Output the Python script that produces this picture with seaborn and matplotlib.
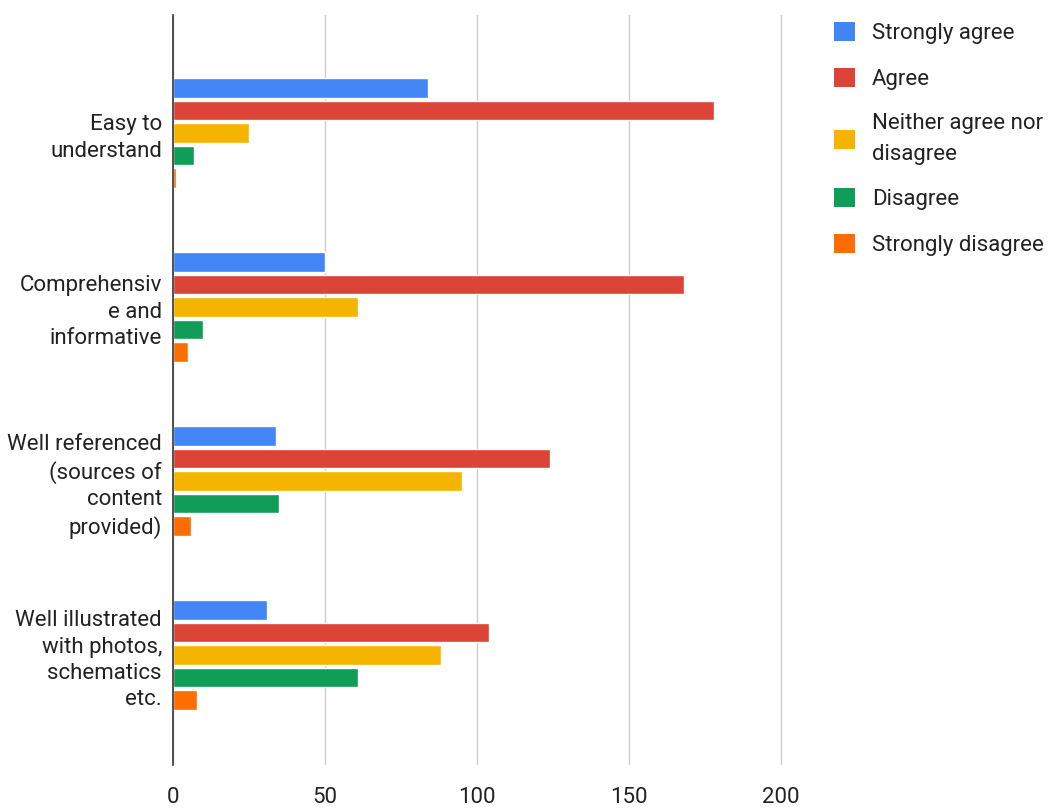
import matplotlib
matplotlib.use("Agg")
import matplotlib.pyplot as plt
from matplotlib.patches import Patch
import seaborn as sns
import pandas as pd

categories = ["Easy to\nunderstand", "Comprehensiv\ne and\ninformative",
              "Well referenced\n(sources of\ncontent\nprovided)",
              "Well illustrated\nwith photos,\nschematics\netc."]
series_names = ["Strongly agree", "Agree", "Neither agree nor disagree",
                "Disagree", "Strongly disagree"]
legend_labels = ["Strongly agree", "Agree", "Neither agree nor\ndisagree",
                 "Disagree", "Strongly disagree"]
strongly_agree = [84, 50, 34, 31]
agree = [178, 168, 124, 104]
neither = [25, 61, 95, 88]
disagree = [7, 10, 35, 61]
strongly_disagree = [1, 5, 6, 8]
x_ticks = [0, 50, 100, 150, 200]
colors = ["#4285F4", "#DB4437", "#F4B400", "#0F9D58", "#FF6D00"]

values = [strongly_agree, agree, neither, disagree, strongly_disagree]
rows = []
for name, vals in zip(series_names, values):
    for cat, v in zip(categories, vals):
        rows.append({"category": cat, "series": name, "value": v})
df = pd.DataFrame(rows)

sns.set_style("white")
plt.rcParams["font.family"] = ["Roboto", "DejaVu Sans"]
text_color = "#222222"

fig = plt.figure(figsize=(10.49, 8.08), dpi=100)
ax = fig.add_axes([173 / 1049, 1 - 765 / 808, (800 - 173) / 1049, (765 - 15) / 808])

sns.barplot(data=df, y="category", x="value", hue="series", order=categories,
            hue_order=series_names, palette=colors, orient="h", width=0.647,
            gap=0.12, ax=ax, legend=False, saturation=1)

ax.set_xlim(0, 206.2)
ax.set_ylim(3.632, -0.678)
ax.set_xticks(x_ticks)
ax.set_xticklabels([str(t) for t in x_ticks], fontsize=16, color=text_color)
ax.tick_params(axis="x", length=0, pad=16)
ax.tick_params(axis="y", length=0, pad=8, labelsize=16, labelcolor=text_color)
for lbl in ax.get_yticklabels():
    lbl.set_horizontalalignment("right")
    lbl.set_multialignment("right")
    lbl.set_linespacing(1.32)
ax.set_xlabel("")
ax.set_ylabel("")
ax.grid(axis="x", color="#cccccc", linewidth=1)
ax.grid(axis="y", visible=False)
ax.set_axisbelow(True)
for side in ["top", "right", "bottom"]:
    ax.spines[side].set_visible(False)
ax.spines["left"].set_color("#333333")
ax.spines["left"].set_linewidth(1.2)

handles = [Patch(facecolor=c, edgecolor="none") for c in colors]
leg = fig.legend(handles, legend_labels, loc="upper left",
                 bbox_to_anchor=(834 / 1049, 1 - 22 / 808), frameon=False,
                 fontsize=16, labelcolor=text_color, handlelength=0.95,
                 handleheight=0.95, handletextpad=0.75, labelspacing=1.05,
                 borderaxespad=0, borderpad=0)
for t in leg.get_texts():
    t.set_linespacing(1.6)

fig.savefig("out.png", dpi=100, facecolor="white")
